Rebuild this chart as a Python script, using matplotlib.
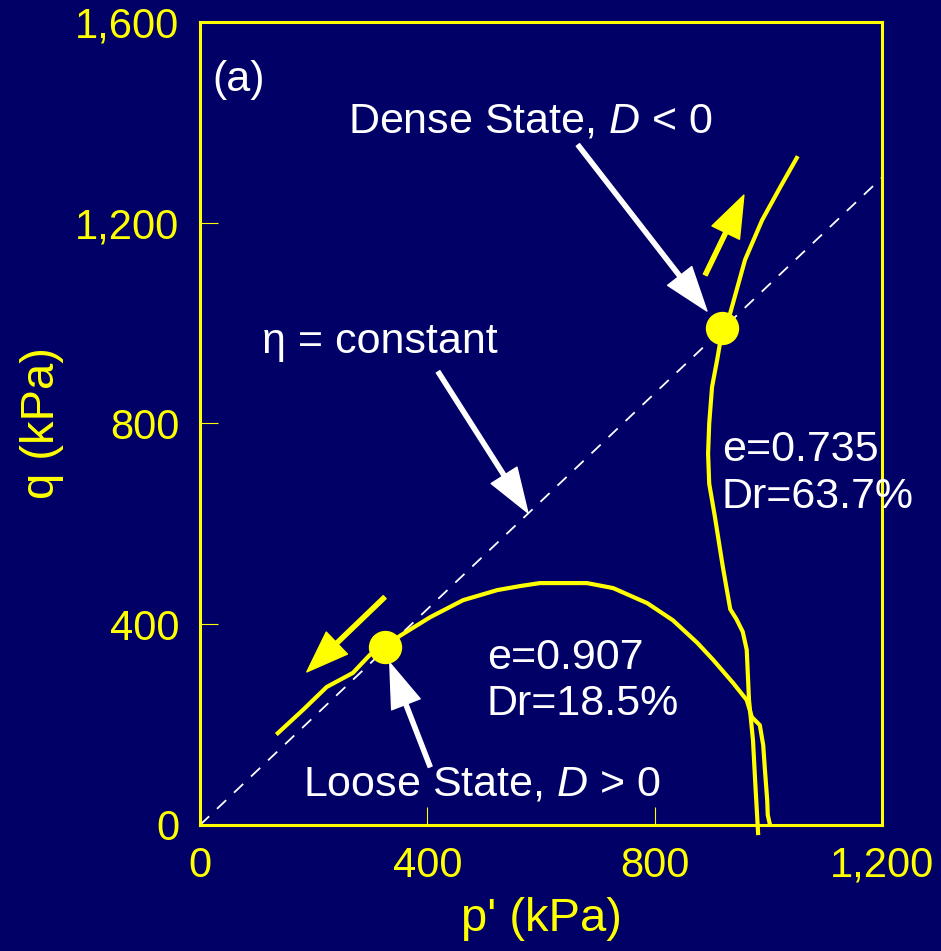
import matplotlib
matplotlib.use('Agg')
import matplotlib.pyplot as plt
from matplotlib.ticker import FuncFormatter

plt.rcParams['font.family'] = ['Liberation Sans', 'DejaVu Sans']
plt.rcParams['mathtext.fontset'] = 'custom'
plt.rcParams['mathtext.rm'] = 'Liberation Sans'
plt.rcParams['mathtext.it'] = 'Liberation Sans:italic'

navy = '#000066'
yellow = '#FFFF00'

# loose sample, e=0.907
p_loose = [1003, 999, 998, 994, 991, 985, 971, 962, 938, 903, 875, 832, 787, 727,
           681, 598, 563, 523, 463, 405, 352, 325, 299, 269, 223, 181, 158, 137]
q_loose = [0, 20, 50, 110, 159, 199, 215, 249, 283, 329, 363, 408, 442, 472,
           482, 482, 476, 468, 448, 414, 377, 355, 339, 303, 275, 229, 205, 183]

# dense sample, e=0.735
p_dense = [982, 977, 973, 966, 962, 955, 944, 933, 920, 906, 896, 894, 896, 901, 910, 918,
           933, 959, 989, 1021, 1050]
q_dense = [-16, 84, 169, 249, 349, 385, 410, 430, 514, 614, 680, 740, 800, 873, 927, 980,
           1020, 1126, 1205, 1271, 1329]

# states on the eta = constant line
p_state = [325.5, 918.5]
q_state = [355, 990]
eta = 1.075

xticks = [0, 400, 800, 1200]
yticks = [0, 400, 800, 1200, 1600]

fig = plt.figure(figsize=(9.41, 9.51), dpi=100, facecolor=navy)
ax = fig.add_axes([0.2125, 0.1325, 0.7248, 0.8444], facecolor=navy)

ax.plot([0, 1250], [0, 1250 * eta], color='white', lw=1.3, dashes=(7, 6))
ax.plot(p_loose, q_loose, color=yellow, lw=3)
ax.plot(p_dense, q_dense, color=yellow, lw=3, clip_on=False)
ax.plot(p_state, q_state, 'o', color=yellow, ms=23, zorder=5)

# yellow arrows showing stress path direction
yarrow = dict(color=yellow, width=3, headwidth=22, headlength=30, shrink=0)
ax.annotate('', xy=(188, 305), xytext=(325, 454), arrowprops=yarrow)
ax.annotate('', xy=(957, 1255), xytext=(889, 1096), arrowprops=yarrow)

# white pointer arrows
warrow = dict(color='white', width=3, headwidth=22, headlength=32, shrink=0)
ax.annotate('', xy=(577, 622), xytext=(419, 903), arrowprops=warrow)
ax.annotate('', xy=(892, 1024), xytext=(665, 1355), arrowprops=warrow)
ax.annotate('', xy=(334, 323), xytext=(405, 116), arrowprops=warrow)

tk = dict(color='white', fontsize=31)
ax.text(21, 1484, '(a)', ha='left', va='center', **tk)
ax.text(582, 1401, 'Dense State, $D$ < 0', ha='center', va='center', **tk)
ax.text(317, 962, 'η = constant', ha='center', va='center', **tk)
ax.text(918, 701, 'e=0.735\nDr=63.7%', ha='left', va='center', linespacing=1.22, **tk)
ax.text(505, 287, 'e=0.907\nDr=18.5%', ha='left', va='center', linespacing=1.22, **tk)
ax.text(496, 80, 'Loose State, $D$ > 0', ha='center', va='center', **tk)

ax.set_xlim(0, 1200)
ax.set_ylim(0, 1600)
ax.set_xticks(xticks)
ax.set_yticks(yticks)
fmt = FuncFormatter(lambda v, pos: f'{v:,.0f}')
ax.xaxis.set_major_formatter(fmt)
ax.yaxis.set_major_formatter(fmt)
ax.tick_params(direction='in', length=13, width=0.8, color=yellow,
               labelcolor=yellow, labelsize=30, pad=15)
for s in ax.spines.values():
    s.set_color(yellow)
    s.set_linewidth(2.2)

ax.set_xlabel("p' (kPa)", color=yellow, fontsize=34, labelpad=8)
ax.set_ylabel('q (kPa)', color=yellow, fontsize=34, labelpad=8)

fig.savefig('out.png', dpi=100, facecolor=navy)
